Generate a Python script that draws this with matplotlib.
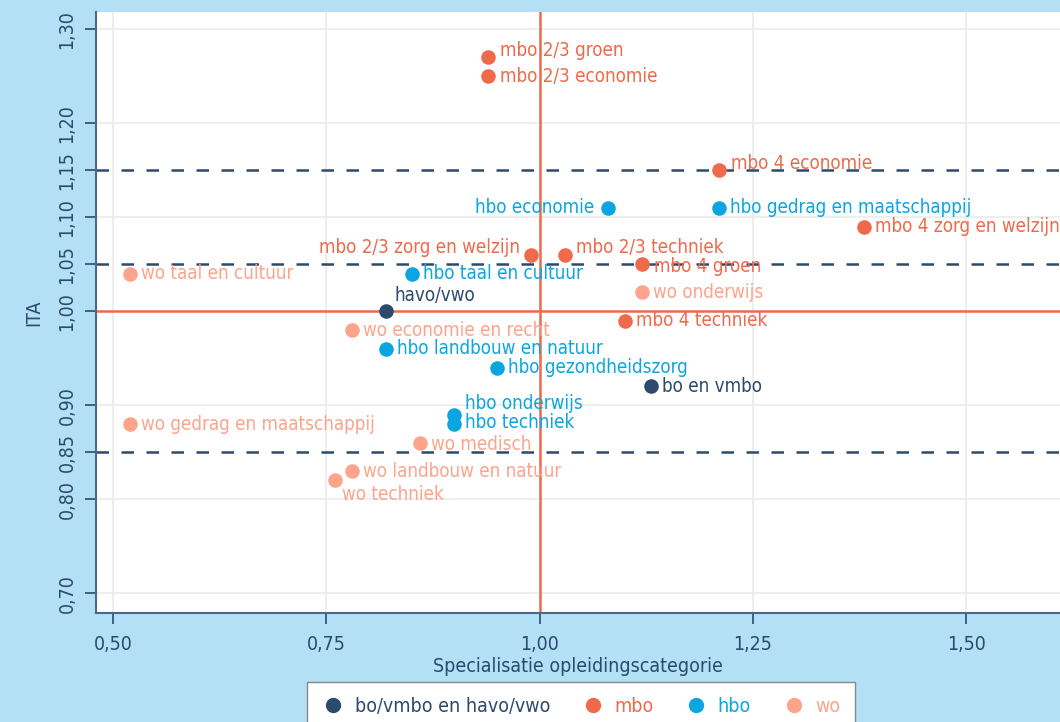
import matplotlib
matplotlib.use("Agg")
import matplotlib.pyplot as plt
from matplotlib.lines import Line2D

plt.rcParams['font.family'] = ['DejaVu Sans']
plt.rcParams['font.stretch'] = 'condensed'

# groups and colours
groups = ['bo/vmbo en havo/vwo', 'mbo', 'hbo', 'wo']
colors = ['#2b4a6e', '#ef6a4b', '#0ba6e1', '#fda48b']

# data per point: label, x (specialisatie), y (ITA), group index
labels = ['havo/vwo', 'bo en vmbo',
          'mbo 2/3 groen', 'mbo 2/3 economie', 'mbo 4 economie', 'mbo 4 zorg en welzijn',
          'mbo 2/3 zorg en welzijn', 'mbo 2/3 techniek', 'mbo 4 groen', 'mbo 4 techniek',
          'hbo economie', 'hbo gedrag en maatschappij', 'hbo taal en cultuur',
          'hbo landbouw en natuur', 'hbo gezondheidszorg', 'hbo onderwijs', 'hbo techniek',
          'wo taal en cultuur', 'wo onderwijs', 'wo economie en recht',
          'wo gedrag en maatschappij', 'wo medisch', 'wo landbouw en natuur', 'wo techniek']
xs = [0.82, 1.13,
      0.94, 0.94, 1.21, 1.38,
      0.99, 1.03, 1.12, 1.10,
      1.08, 1.21, 0.85,
      0.82, 0.95, 0.90, 0.90,
      0.52, 1.12, 0.78,
      0.52, 0.86, 0.78, 0.76]
ys = [1.00, 0.92,
      1.27, 1.25, 1.15, 1.09,
      1.06, 1.06, 1.05, 0.99,
      1.11, 1.11, 1.04,
      0.96, 0.94, 0.89, 0.88,
      1.04, 1.02, 0.98,
      0.88, 0.86, 0.83, 0.82]
grp = [0, 0,
       1, 1, 1, 1, 1, 1, 1, 1,
       2, 2, 2, 2, 2, 2, 2,
       3, 3, 3, 3, 3, 3, 3]

# label offsets in points (dx, dy, ha)
offsets = {
    'havo/vwo': (6, 11, 'left'),
    'mbo 2/3 groen': (8, 5, 'left'),
    'mbo 2/3 zorg en welzijn': (-8, 5, 'right'),
    'mbo 2/3 techniek': (8, 5, 'left'),
    'mbo 4 economie': (9, 5, 'left'),
    'mbo 4 groen': (9, -2, 'left'),
    'hbo economie': (-10, 0, 'right'),
    'hbo onderwijs': (8, 8, 'left'),
    'hbo techniek': (8, 1, 'left'),
    'wo techniek': (5, -10, 'left'),
    'wo medisch': (8, -1, 'left'),
}

fig = plt.figure(figsize=(10.6, 7.22), dpi=100)
fig.patch.set_facecolor('#b3e0f4')
ax = fig.add_axes([0.0906, 0.151, 0.9094, 0.832])
ax.set_facecolor('white')

# grid
for gx in [0.50, 0.75, 1.00, 1.25, 1.50]:
    ax.axvline(gx, color='#ebebeb', lw=1.2, zorder=0)
for gy in [0.70, 0.80, 0.90, 1.00, 1.10, 1.20, 1.30]:
    ax.axhline(gy, color='#ebebeb', lw=1.2, zorder=0)

for hy in [1.15, 1.05, 0.85]:
    ax.axhline(hy, color='#2b4a6e', lw=1.8, ls=(0, (5, 5)), zorder=1)
ax.axvline(1.0, color='#ef6a4b', lw=1.8, zorder=1)
ax.axhline(1.0, color='#ef6a4b', lw=1.8, zorder=1)

for lab, x, y, g in zip(labels, xs, ys, grp):
    ax.scatter(x, y, s=110, color=colors[g], zorder=3, linewidths=0)
    dx, dy, ha = offsets.get(lab, (8, 0, 'left'))
    ax.annotate(lab, (x, y), xytext=(dx, dy), textcoords='offset points',
                ha=ha, va='center', fontsize=13.5, color=colors[g], zorder=4)

ax.set_xlim(0.48, 1.61)
ax.set_ylim(0.679, 1.318)
ax.set_xticks([0.50, 0.75, 1.00, 1.25, 1.50])
ax.set_xticklabels(['0,50', '0,75', '1,00', '1,25', '1,50'])
yt = [0.70, 0.80, 0.85, 0.90, 1.00, 1.05, 1.10, 1.15, 1.20, 1.30]
ax.set_yticks(yt)
ax.set_yticklabels([f'{v:.2f}'.replace('.', ',') for v in yt], rotation=90, va='center')
ax.tick_params(axis='both', colors='#2b4a6e', labelsize=14, length=8, width=1.2)
ax.tick_params(axis='x', pad=8)
ax.tick_params(axis='y', pad=6)
for s in ['top', 'right']:
    ax.spines[s].set_visible(False)
for s in ['left', 'bottom']:
    ax.spines[s].set_color('#4d6789')
    ax.spines[s].set_linewidth(1.5)

ax.set_xlabel('Specialisatie opleidingscategorie', fontsize=14, color='#2b4a6e', labelpad=2)
ax.set_ylabel('ITA', fontsize=14, color='#2b4a6e', labelpad=10)

handles = [Line2D([], [], marker='o', ls='', color=c, markersize=10) for c in colors]
leg = fig.legend(handles, groups, loc='lower center', bbox_to_anchor=(0.548, -0.025), ncol=4,
                 frameon=True, fontsize=14, fancybox=False, handletextpad=0.5,
                 handlelength=1.2, columnspacing=1.6, borderpad=0.75, framealpha=1)
leg.get_frame().set_edgecolor('#888888')
leg.get_frame().set_facecolor('white')
leg.get_frame().set_linewidth(1.0)
for t, c in zip(leg.get_texts(), colors):
    t.set_color(c)

fig.savefig('out.png', dpi=100, facecolor=fig.get_facecolor())
